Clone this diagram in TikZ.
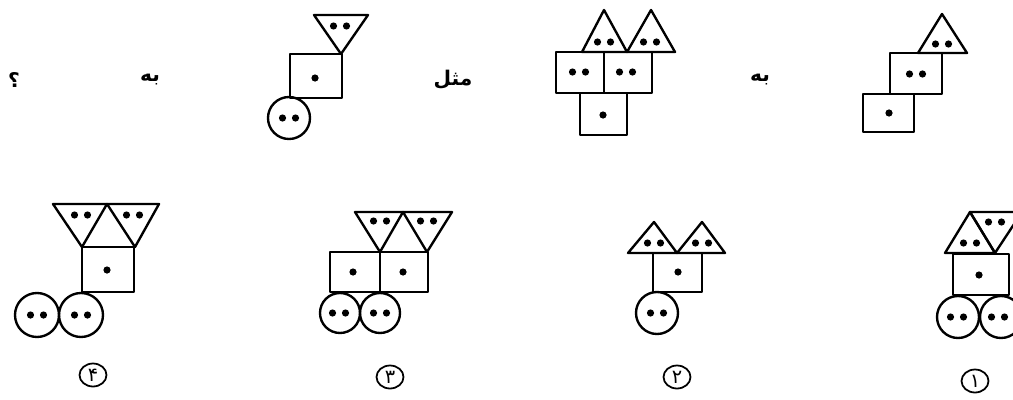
\documentclass[tikz,border=0pt]{standalone}
\usepackage{fontspec}
\newfontfamily\arabicfont[Script=Arabic]{DejaVu Sans}
\TeXXeTstate=1
\usetikzlibrary{positioning, shapes.geometric}

% dots inside the shapes
\newcommand{\onedot}[2]{\fill (#1,#2) circle[radius=3.6];}
\newcommand{\twodot}[2]{\fill (#1-6.5,#2) circle[radius=3.6] (#1+6.5,#2) circle[radius=3.6];}

\begin{document}
\begin{tikzpicture}[x=0.02cm, y=-0.02cm, line width=1.35pt, line join=round,
    word/.style = {font=\arabicfont\bfseries\fontsize{11.5}{14}\selectfont, inner sep=0pt},
    num/.style = {draw, line width=1pt, ellipse, minimum width=27*0.02cm, minimum height=23*0.02cm,
                  inner sep=0pt, font=\arabicfont\fontsize{11}{12}\selectfont}]
    \clip (0,0) rectangle (1013,399);

    % top row: words
    \node[word] (q) at (14,80) {\beginR ؟\endR};
    \node[word] (ba1) at (150,80) {\beginR به\endR};
    \node[word] (mesl) at (453,80) {\beginR مثل\endR};
    \node[word] (ba2) at (760,80) {\beginR به\endR};

    % figure A (right)
    \draw (863,94) rectangle (914,132); \onedot{889}{113}
    \draw (890,53) rectangle (942,94); \twodot{916}{74}
    \draw (918,53) -- (942,14) -- (967,53) -- cycle; \twodot{942}{44}

    % figure B
    \draw (582,52) -- (604,10) -- (627,52) -- cycle; \twodot{604}{42}
    \draw (627,52) -- (651,10) -- (675,52) -- cycle; \twodot{650}{42}
    \draw (556,52) rectangle (604,93); \twodot{579}{72}
    \draw (604,52) rectangle (652,93); \twodot{626}{72}
    \draw (580,93) rectangle (627,135); \onedot{603}{115}

    % figure C
    \draw (314,15) -- (368,15) -- (341,54) -- cycle; \twodot{340}{26}
    \draw (290,54) rectangle (342,98); \onedot{315}{78}
    \draw (289,118) circle[radius=21]; \twodot{289}{118}

    % answer 1
    \draw (945,253) -- (970,212) -- (995,253) -- cycle; \twodot{970}{243}
    \draw (970,212) -- (1022,212) -- (995,253) -- cycle; \twodot{995}{222}
    \draw (953,254) rectangle (1009,295); \onedot{979}{275}
    \draw (958,317) circle[radius=21]; \twodot{957}{317}
    \draw (1001,317) circle[radius=21]; \twodot{998}{317}
    \node[num] (n1) at (975,381) {\beginR ۱\endR};

    % answer 2
    \draw (628,253) -- (654,222) -- (677,253) -- cycle; \twodot{654}{243}
    \draw (677,253) -- (702,222) -- (725,253) -- cycle; \twodot{702}{243}
    \draw (653,253) rectangle (702,292); \onedot{678}{272}
    \draw (657,313) circle[radius=21]; \twodot{657}{313}
    \node[num] (n2) at (677,377) {\beginR ۲\endR};

    % answer 3
    \draw (355,212) -- (403,212) -- (380,252) -- cycle; \twodot{380}{221}
    \draw (403,212) -- (452,212) -- (427,252) -- cycle; \twodot{427}{221}
    \draw (330,252) rectangle (380,292); \onedot{353}{272}
    \draw (380,252) rectangle (428,292); \onedot{403}{272}
    \draw (340,313) circle[radius=20]; \twodot{339}{313}
    \draw (380,313) circle[radius=20]; \twodot{380}{313}
    \node[num] (n3) at (390,377) {\beginR ۳\endR};

    % answer 4
    \draw (53,204) -- (107,204) -- (82,247) -- cycle; \twodot{81}{215}
    \draw (107,204) -- (159,204) -- (135,247) -- cycle; \twodot{133}{215}
    \draw (82,247) rectangle (134,292); \onedot{107}{270}
    \draw (37,315) circle[radius=22]; \twodot{37}{315}
    \draw (81,315) circle[radius=22]; \twodot{81}{315}
    \node[num] (n4) at (93,375) {\beginR ۴\endR};
\end{tikzpicture}
\end{document}
